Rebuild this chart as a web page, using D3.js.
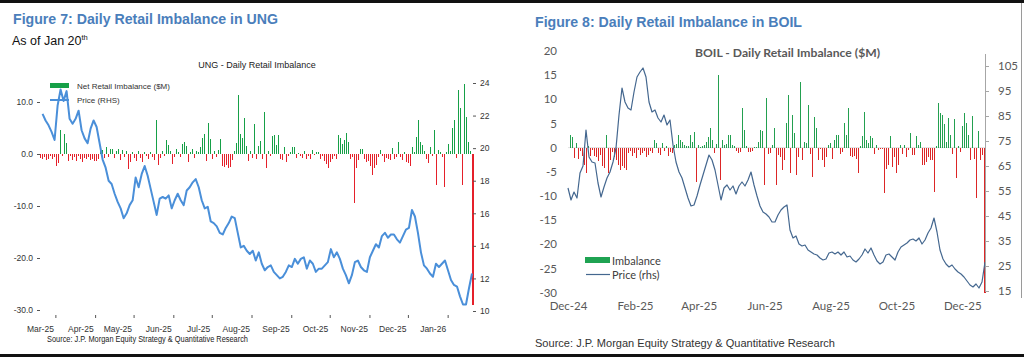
<!DOCTYPE html>
<html><head><meta charset="utf-8">
<script src="https://cdn.jsdelivr.net/npm/d3@7"></script>
<style>
body{margin:0;background:#fff;}
svg{display:block;}
.narrow{font-family:"Liberation Sans Narrow","Arial Narrow","Liberation Sans",Arial,sans-serif;}
.lato{font-family:Lato,"Open Sans",sans-serif;}
</style></head><body>
<svg id="c" width="1024" height="357"></svg>
<script>
// ---------------- DATA ----------------
// UNG (Figure 7)
const ungTickLabels = ["Mar-25","Apr-25","May-25","Jun-25","Jul-25","Aug-25","Sep-25","Oct-25","Nov-25","Dec-25","Jan-26"];
const ungLeftTicks = [-30,-20,-10,0,10];
const ungRightTicks = [10,12,14,16,18,20,22,24];
const ungRange = ["2025-02-17","2026-01-20"];
const ungPriceRange = ["2025-02-19","2026-01-20"];
const ungPrice = [22.1,21.7,21.4,21.0,20.5,22.6,23.6,22.9,23.5,21.8,21.5,21.8,22.3,21.1,20.6,20.3,21.2,21.7,21.3,20.3,
19.3,18.8,18.0,17.8,17.2,16.7,16.3,15.7,16.0,16.5,16.8,18.2,17.6,18.4,18.9,18.3,17.5,16.7,15.9,16.9,
17.0,16.9,17.1,16.3,16.8,17.2,16.8,16.5,17.4,17.6,17.9,18.1,17.6,16.8,16.3,16.4,15.5,15.4,15.2,14.8,
14.7,15.1,15.4,15.8,15.7,14.8,13.9,14.0,13.7,13.5,13.7,13.1,13.6,12.9,12.5,12.7,12.8,12.4,12.2,12.0,
12.1,12.4,12.8,12.7,13.2,12.9,13.2,13.3,12.6,13.1,12.9,12.4,12.6,12.6,12.8,13.0,13.8,13.3,13.6,13.2,
12.6,12.2,11.7,12.2,13.0,13.1,12.7,12.5,12.4,13.3,13.7,14.1,13.9,14.6,14.8,14.5,14.7,14.7,14.4,14.2,
14.6,15.0,15.1,16.2,15.8,14.8,13.6,12.8,12.6,12.3,12.1,12.9,12.7,12.9,13.1,12.5,11.9,11.6,11.5,10.9,
10.4,10.4,11.4,12.3];
const ungImbalance = [-0.8,-1.0,-0.5,-1.2,-0.9,-0.4,-1.0,-0.6,-2.4,-1.8,4.6,-0.3,3.8,2.2,-1.4,-0.3,-1.1,-0.6,-1.3,-0.4,
-1.0,-1.5,-0.7,-1.0,-0.5,-1.2,-0.9,-1.4,-1.3,-1.0,1.2,0.8,-0.7,1.3,-0.6,0.9,1.0,-0.8,0.6,0.9,
-1.1,0.7,-0.5,0.5,-2.8,-1.5,0.4,-0.7,-1.4,0.5,-0.8,-1.6,0.3,-0.4,-1.0,0.4,-0.6,-1.2,6.5,-2.2,
-0.8,0.5,-0.3,2.7,1.7,0.6,-2.0,-0.5,1.0,0.4,-0.6,2.0,2.4,1.6,-1.5,0.4,1.0,-0.7,0.6,0.4,
1.4,3.0,3.9,-1.3,6.0,2.9,-1.0,0.6,-0.5,0.8,2.9,-2.3,-2.5,-2.2,-2.6,-2.5,-1.2,0.5,2.2,11.3,
3.9,3.0,6.9,1.5,-1.4,0.6,-0.8,5.8,-0.9,1.6,2.5,-1.0,8.1,-2.7,0.5,-0.4,3.5,3.7,1.7,3.7,
-1.0,-1.2,1.4,-1.5,-0.3,0.3,1.3,1.4,-0.7,0.2,-0.4,-0.8,0.5,-1.0,-0.3,-1.0,0.8,-0.2,0.4,0.3,
-0.9,-0.3,-1.3,-2.0,-2.7,-1.5,-0.9,-0.4,-1.0,3.7,3.0,2.0,2.7,4.0,2.4,-1.0,-0.5,-9.5,-2.6,-1.2,
0.9,1.0,-0.9,-1.5,-1.3,-2.4,-4.0,-2.7,-2.1,-0.6,0.8,-0.4,-1.5,-0.8,-1.0,-1.2,1.1,-0.9,-0.6,2.3,
-0.5,-1.2,0.3,-1.5,-1.8,-2.4,1.4,0.4,3.3,6.5,2.3,1.7,0.5,-0.9,-1.8,1.4,-0.4,4.6,-6.0,0.7,
0.3,-0.5,-6.3,0.3,2.0,0.6,5.0,6.5,-0.7,12.3,8.8,-6.0,13.5,7.1,2.3,0.5,-29.0];

// BOIL (Figure 8)
const boilTickLabels = ["Dec-24","Feb-25","Apr-25","Jun-25","Aug-25","Oct-25","Dec-25"];
const boilLeftTicks = [-30,-25,-20,-15,-10,-5,0,5,10,15,20];
const boilRightTicks = [15,25,35,45,55,65,75,85,95,105];
const boilRange = ["2024-12-01","2025-12-22"];
const boilBarRange = ["2024-12-03","2025-12-21"];
const boilPrice = [56.2,51.4,54.6,52.2,62.2,65.0,79.4,68.6,66.6,66.2,58.2,52.6,56.6,60.2,62.6,66.6,72.2,85.4,96.2,90.6,
88.2,87.4,94.6,100.6,102.6,104.2,100.6,90.6,86.6,87.4,84.2,82.6,85.4,81.4,83.4,73.4,66.6,62.6,60.2,56.2,
52.2,49.0,49.4,53.0,57.4,61.4,65.4,69.4,67.4,63.4,57.4,51.4,56.2,57.4,55.4,57.0,53.8,57.0,58.6,57.0,
59.4,62.6,57.4,53.0,49.0,46.6,45.8,44.6,42.6,42.6,45.4,47.4,48.6,49.4,39.4,36.2,37.0,33.8,33.0,33.4,
31.4,30.6,29.8,29.4,28.2,27.4,27.8,30.2,30.6,29.8,30.6,29.4,30.6,28.6,29.0,27.4,26.6,27.8,29.4,31.8,
30.2,32.2,29.4,27.0,25.8,26.6,29.4,29.8,28.6,27.4,30.6,32.6,33.4,34.2,35.4,35.8,35.0,36.2,33.8,35.4,
38.2,40.2,44.2,38.6,31.4,27.8,25.8,24.6,25.4,23.8,22.6,21.8,20.6,19.0,17.4,16.6,17.8,16.2,18.6,26.6];
const boilImbalance = [2.6,2.2,-2.2,0.9,-2.4,-0.8,-1.8,-3.6,-5.3,0.4,-1.8,-0.6,-1.8,-2.0,-2.8,-1.6,-3.9,-4.3,2.6,-5.3,
-2.6,-0.9,-2.0,-2.6,-3.6,-4.6,-3.9,-4.3,-4.6,-1.2,-0.8,-1.8,-1.1,-2.2,-0.5,-1.6,-1.2,-0.8,-2.0,-1.6,
-0.8,-1.2,1.6,0.9,-1.2,-1.6,0.9,-0.8,0.3,-1.8,-0.9,-1.2,0.5,0.8,2.6,1.6,1.1,0.6,0.4,0.3,
2.6,1.2,3.2,-7.1,0.6,0.2,0.4,0.6,1.2,2.2,4.0,1.5,-1.2,0.8,15.0,-6.7,1.6,0.6,0.8,2.7,
2.7,0.6,0.4,-0.8,-1.2,-1.0,8.2,3.6,0.4,-1.0,-1.0,-0.8,0.2,0.1,1.2,3.7,3.4,-7.8,10.2,-1.4,
-1.1,0.6,4.0,-7.7,-1.6,-2.0,-4.6,-2.5,5.1,10.9,-5.2,6.7,3.1,-5.7,-2.0,13.6,-2.6,1.2,0.9,8.8,
-1.4,-6.1,6.3,4.0,-2.6,-0.3,-2.6,-4.1,-2.0,0.6,0.9,-2.3,1.6,2.6,2.6,-1.4,-1.0,5.1,2.6,8.2,
-1.8,-2.0,-1.8,-2.4,-5.2,0.3,2.4,7.4,1.5,1.0,2.4,2.0,-1.4,0.6,-0.5,-0.2,-0.3,-9.4,-4.4,-3.6,
2.4,-4.1,-2.0,-5.2,-3.5,0.6,-1.4,0.6,-2.0,-0.6,3.0,-1.6,-1.6,2.4,0.6,1.2,-3.5,-3.5,-3.0,-2.0,
-2.6,-2.5,-9.1,0.4,9.2,7.2,6.7,4.8,1.2,6.2,2.6,-1.4,5.9,-6.2,0.3,-1.0,4.4,7.2,5.1,2.6,
-2.6,6.5,-2.3,-10.4,3.4,-2.6,-1.6,-30.0];

// ---------------- DRAW ----------------
const svg = d3.select("#c");
const parseD = d3.timeParse("%Y-%m-%d");
const parseM = d3.timeParse("%b-%y");

svg.append("rect").attr("x",0).attr("y",0).attr("width",1024).attr("height",3).attr("fill","#111");
svg.append("rect").attr("x",0).attr("y",354).attr("width",1024).attr("height",3).attr("fill","#111");
svg.append("line").attr("x1",1021.5).attr("x2",1021.5).attr("y1",3).attr("y2",298).attr("stroke","#9a9a9a").attr("stroke-width",1);

const titleBlue = "#4a7ebb";

// ===== UNG =====
(function(){
  const g = svg.append("g");
  g.append("text").attr("x",13).attr("y",24).attr("fill",titleBlue)
    .attr("font-family","Liberation Sans, Arial, sans-serif").attr("font-weight","bold").attr("font-size",15)
    .attr("textLength",265).attr("lengthAdjust","spacingAndGlyphs")
    .text("Figure 7: Daily Retail Imbalance in UNG");
  const sub = g.append("text").attr("x",12).attr("y",45).attr("fill","#111")
    .attr("font-family","Liberation Sans, Arial, sans-serif").attr("font-size",12.5);
  sub.append("tspan").text("As of Jan 20");
  sub.append("tspan").attr("dy",-5).attr("font-size",7.5).text("th");

  g.append("text").attr("class","narrow").attr("x",257).attr("y",68).attr("text-anchor","middle")
    .attr("font-size",9).attr("fill","#222").text("UNG - Daily Retail Imbalance");

  const xT = d3.scaleTime().domain(ungRange.map(parseD)).range([40,472]);
  const yL = d3.scaleLinear().domain([-30,10]).range([310,102]);
  const yR = d3.scaleLinear().domain([10,24]).range([311,83]);
  const xb = d3.scaleLinear().domain([0, ungImbalance.length-1]).range(ungRange.map(d=>xT(parseD(d))));
  const xp = d3.scaleLinear().domain([0, ungPrice.length-1]).range(ungPriceRange.map(d=>xT(parseD(d))));

  g.append("g").attr("shape-rendering","crispEdges").selectAll("rect").data(ungImbalance).join("rect")
    .attr("x",(d,i)=>Math.round(xb(i))).attr("width",(d,i)=> i===ungImbalance.length-1?2:1)
    .attr("y",d=>yL(Math.max(0,d))).attr("height",d=>Math.abs(yL(d)-yL(0)))
    .attr("fill",d=>d>=0?"#16a047":"#e5202a");

  g.append("path").datum(ungPrice)
    .attr("d",d3.line().x((d,i)=>xp(i)).y(d=>yR(d)))
    .attr("fill","none").attr("stroke","#4a8fd9").attr("stroke-width",2).attr("stroke-linejoin","round");

  const ax = g.append("g").attr("class","narrow").attr("transform","translate(0,318)")
    .call(d3.axisBottom(xT).tickValues(ungTickLabels.map(parseM)).tickFormat((d,i)=>ungTickLabels[i]).tickSize(3).tickPadding(5));
  ax.select(".domain").remove();
  ax.selectAll("line").attr("stroke","#555").attr("transform","translate(0,-3)");
  ax.selectAll("text").attr("text-anchor","end").attr("dx",-2).attr("font-size",8.5).attr("fill","#333");

  const al = g.append("g").attr("class","narrow").attr("transform","translate(40,0)")
    .call(d3.axisLeft(yL).tickValues(ungLeftTicks).tickFormat(d3.format(".1f")).tickSize(3).tickPadding(4));
  al.select(".domain").remove();
  al.selectAll("line").attr("stroke","#555");
  al.selectAll("text").attr("font-size",8.5).attr("fill","#333").text(d=>d3.format(".1f")(d).replace("−","-"));

  const ar = g.append("g").attr("class","narrow").attr("transform","translate(473,0)")
    .call(d3.axisRight(yR).tickValues(ungRightTicks).tickSize(3).tickPadding(4));
  ar.select(".domain").remove();
  ar.selectAll("line").attr("stroke","#555");
  ar.selectAll("text").attr("font-size",8.5).attr("fill","#333");

  g.append("rect").attr("x",50).attr("y",83).attr("width",19).attr("height",5).attr("fill","#16a047");
  g.append("text").attr("class","narrow").attr("x",77).attr("y",89).attr("font-size",8).attr("fill","#333").text("Net Retail Imbalance ($M)");
  g.append("line").attr("x1",50).attr("x2",69).attr("y1",100).attr("y2",100).attr("stroke","#4a8fd9").attr("stroke-width",2);
  g.append("text").attr("class","narrow").attr("x",77).attr("y",103).attr("font-size",8).attr("fill","#333").text("Price (RHS)");

  g.append("text").attr("class","narrow").attr("x",47).attr("y",342).attr("font-size",8.5).attr("fill","#222")
    .attr("textLength",201).attr("lengthAdjust","spacingAndGlyphs")
    .text("Source: J.P. Morgan Equity Strategy & Quantitative Research");
})();

// ===== BOIL =====
(function(){
  const g = svg.append("g");
  g.append("text").attr("x",535).attr("y",27).attr("fill",titleBlue)
    .attr("font-family","Liberation Sans, Arial, sans-serif").attr("font-weight","bold").attr("font-size",15)
    .attr("textLength",267).attr("lengthAdjust","spacingAndGlyphs")
    .text("Figure 8: Daily Retail Imbalance in BOIL");
  g.append("text").attr("class","lato").attr("x",695).attr("y",57).attr("font-weight","bold")
    .attr("font-size",11).attr("fill","#595959").attr("textLength",185).attr("lengthAdjust","spacingAndGlyphs")
    .text("BOIL - Daily Retail Imbalance ($M)");

  const xT = d3.scaleTime().domain(boilRange.map(parseD)).range([568,985]);
  const yL = d3.scaleLinear().domain([-30,20]).range([292.5,51]);
  const yR = d3.scaleLinear().domain([15,110]).range([291,53.5]);
  const xb = d3.scaleLinear().domain([0, boilImbalance.length-1]).range(boilBarRange.map(d=>xT(parseD(d))));
  const xp = d3.scaleLinear().domain([0, boilPrice.length-1]).range(boilRange.map(d=>xT(parseD(d))));

  g.append("line").attr("x1",568).attr("x2",985).attr("y1",yL(0)).attr("y2",yL(0)).attr("stroke","#d9d9d9").attr("stroke-width",0.8);

  g.append("g").attr("shape-rendering","crispEdges").selectAll("rect").data(boilImbalance).join("rect")
    .attr("x",(d,i)=>Math.round(xb(i))).attr("width",(d,i)=> i===boilImbalance.length-1?2:1)
    .attr("y",d=>yL(Math.max(0,d))).attr("height",d=>Math.abs(yL(d)-yL(0)))
    .attr("fill",d=>d>=0?"#23a050":"#dc2626");

  g.append("path").datum(boilPrice)
    .attr("d",d3.line().x((d,i)=>xp(i)).y(d=>yR(d)))
    .attr("fill","none").attr("stroke","#44678f").attr("stroke-width",1.2).attr("stroke-linejoin","round");

  const ax = g.append("g").attr("class","lato").attr("transform","translate(0,298)")
    .call(d3.axisBottom(xT).tickValues(boilTickLabels.map(parseM)).tickFormat((d,i)=>boilTickLabels[i]).tickSize(0).tickPadding(4));
  ax.select(".domain").remove();
  ax.selectAll("text").attr("font-size",11.5).attr("fill","#595959");

  const al = g.append("g").attr("class","lato").attr("transform","translate(560,0)")
    .call(d3.axisLeft(yL).tickValues(boilLeftTicks).tickSize(0).tickPadding(3));
  al.select(".domain").remove();
  al.selectAll("text").attr("font-size",11.5).attr("fill","#595959").text(d=>String(d));

  const ar = g.append("g").attr("class","lato").attr("transform","translate(985,0)")
    .call(d3.axisRight(yR).tickValues(boilRightTicks).tickSize(4).tickSizeOuter(0).tickPadding(9));
  ar.select(".domain").attr("stroke","#a6a6a6");
  ar.selectAll("line").attr("stroke","#a6a6a6");
  ar.selectAll("text").attr("font-size",11.5).attr("fill","#595959");

  g.append("rect").attr("x",585).attr("y",257).attr("width",25).attr("height",6).attr("fill","#1fa352");
  g.append("text").attr("class","lato").attr("x",612).attr("y",265).attr("font-size",11).attr("fill","#404040").text("Imbalance");
  g.append("line").attr("x1",586).attr("x2",610).attr("y1",274.5).attr("y2",274.5).attr("stroke","#44678f").attr("stroke-width",1.2);
  g.append("text").attr("class","lato").attr("x",612).attr("y",279).attr("font-size",11).attr("fill","#404040").text("Price (rhs)");

  g.append("text").attr("x",535).attr("y",347).attr("font-family","Liberation Sans, Arial, sans-serif")
    .attr("font-size",11.5).attr("fill","#333").attr("textLength",300).attr("lengthAdjust","spacingAndGlyphs")
    .text("Source: J.P. Morgan Equity Strategy & Quantitative Research");
})();
</script>
</body></html>
